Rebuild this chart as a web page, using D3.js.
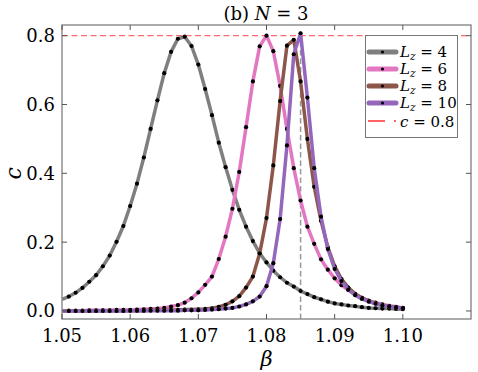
<!DOCTYPE html>
<html>
<head>
<meta charset="utf-8">
<script src="https://cdn.jsdelivr.net/npm/d3@7"></script>
<style>
  body { margin: 0; background: #fff; }
  svg text { font-family: "DejaVu Serif", "Liberation Serif", serif; }
</style>
</head>
<body>
<svg id="chart" width="478" height="372"></svg>
<script>
// beta grid (0.001 steps)
const betas = [1.050,1.051,1.052,1.053,1.054,1.055,1.056,1.057,1.058,1.059,
  1.060,1.061,1.062,1.063,1.064,1.065,1.066,1.067,1.068,1.069,
  1.070,1.071,1.072,1.073,1.074,1.075,1.076,1.077,1.078,1.079,
  1.080,1.081,1.082,1.083,1.084,1.085,1.086,1.087,1.088,1.089,
  1.090,1.091,1.092,1.093,1.094,1.095,1.096,1.097,1.098,1.099,1.100];

const cLz4 = [0.034,0.042,0.053,0.067,0.085,0.104,0.130,0.161,0.201,0.247,
  0.305,0.370,0.446,0.529,0.612,0.691,0.753,0.791,0.797,0.770,
  0.716,0.645,0.569,0.489,0.418,0.352,0.294,0.245,0.203,0.168,
  0.141,0.117,0.098,0.082,0.071,0.058,0.049,0.040,0.034,0.027,
  0.022,0.019,0.016,0.014,0.011,0.009,0.008,0.007,0.007,0.006,0.005];

const cLz6 = [0.001,0.001,0.001,0.001,0.002,0.002,0.002,0.002,0.003,0.003,
  0.003,0.004,0.005,0.006,0.007,0.009,0.013,0.017,0.024,0.037,
  0.054,0.076,0.100,0.151,0.216,0.297,0.404,0.534,0.667,0.769,
  0.800,0.755,0.654,0.529,0.415,0.321,0.245,0.195,0.150,0.120,
  0.095,0.075,0.061,0.048,0.038,0.030,0.024,0.019,0.015,0.012,0.009];

const cLz8 = [0.000,0.000,0.000,0.000,0.000,0.000,0.001,0.001,0.001,0.001,
  0.001,0.001,0.001,0.002,0.002,0.002,0.003,0.003,0.004,0.004,
  0.005,0.006,0.008,0.012,0.018,0.028,0.043,0.068,0.100,0.167,
  0.270,0.423,0.610,0.771,0.788,0.667,0.500,0.361,0.262,0.185,
  0.130,0.093,0.068,0.050,0.038,0.029,0.022,0.017,0.013,0.011,0.009];

const cLz10 = [0.000,0.000,0.000,0.000,0.000,0.000,0.000,0.000,0.000,0.000,
  0.001,0.001,0.001,0.001,0.001,0.001,0.001,0.001,0.002,0.002,
  0.002,0.003,0.004,0.005,0.007,0.009,0.013,0.019,0.028,0.042,
  0.072,0.139,0.267,0.481,0.746,0.807,0.620,0.415,0.274,0.180,
  0.122,0.087,0.062,0.046,0.035,0.027,0.021,0.016,0.013,0.010,0.008];

const seriesNames = ["4", "6", "8", "10"];
const seriesColors = ["#7f7f7f", "#e377c2", "#8c564b", "#9467bd"];
const seriesValues = [cLz4, cLz6, cLz8, cLz10];

const xTicks = [1.05, 1.06, 1.07, 1.08, 1.09, 1.10];
const yTicks = [0.0, 0.2, 0.4, 0.6, 0.8];
const cRef = 0.8;
const betaMark = 1.085;

const width = 478, height = 372;
const margin = {top: 25, right: 7, bottom: 53, left: 62};

const svg = d3.select("#chart");

const x = d3.scaleLinear().domain([1.05, 1.11]).range([margin.left, width - margin.right]);
const y = d3.scaleLinear().domain([-0.0233, 0.831]).range([height - margin.bottom, margin.top]);

const plot = svg.append("g");

// reference lines
plot.append("line")
    .attr("x1", x(1.05)).attr("x2", x(1.11))
    .attr("y1", y(cRef)).attr("y2", y(cRef))
    .attr("stroke", "#ff6a6a").attr("stroke-width", 1.4)
    .attr("stroke-dasharray", "6,3.5");

plot.append("line")
    .attr("x1", x(betaMark)).attr("x2", x(betaMark))
    .attr("y1", y(-0.0233)).attr("y2", y(0.81))
    .attr("stroke", "#999").attr("stroke-width", 1.5)
    .attr("stroke-dasharray", "5.5,3");

const line = d3.line()
    .x(d => x(d[0]))
    .y(d => y(d[1]));

seriesValues.forEach((vals, i) => {
  const pts = betas.map((b, j) => [b, vals[j]]);
  plot.append("path")
      .datum(pts)
      .attr("fill", "none")
      .attr("stroke", seriesColors[i])
      .attr("stroke-width", 3.5)
      .attr("stroke-linejoin", "round")
      .attr("d", line);
  plot.append("g")
      .selectAll("circle")
      .data(pts.slice(1))
      .join("circle")
      .attr("cx", d => x(d[0]))
      .attr("cy", d => y(d[1]))
      .attr("r", 2.1)
      .attr("fill", "#000");
});

// frame + ticks
const axisColor = "#888";
const tickLen = 5;
svg.append("rect")
    .attr("x", margin.left).attr("y", margin.top)
    .attr("width", width - margin.left - margin.right)
    .attr("height", height - margin.top - margin.bottom)
    .attr("fill", "none").attr("stroke", axisColor).attr("stroke-width", 1.4);

const ticks = svg.append("g").attr("stroke", "#555").attr("stroke-width", 1);
xTicks.forEach(t => {
  ticks.append("line").attr("x1", x(t)).attr("x2", x(t))
      .attr("y1", height - margin.bottom).attr("y2", height - margin.bottom - tickLen);
  ticks.append("line").attr("x1", x(t)).attr("x2", x(t))
      .attr("y1", margin.top).attr("y2", margin.top + tickLen);
});
yTicks.forEach(t => {
  ticks.append("line").attr("x1", margin.left).attr("x2", margin.left + tickLen)
      .attr("y1", y(t)).attr("y2", y(t));
  ticks.append("line").attr("x1", width - margin.right).attr("x2", width - margin.right - tickLen)
      .attr("y1", y(t)).attr("y2", y(t));
});

const fs = 18;
svg.append("g").selectAll("text")
    .data(xTicks)
    .join("text")
    .attr("x", d => x(d))
    .attr("y", 342)
    .attr("text-anchor", "middle")
    .attr("font-size", fs)
    .text(d => d.toFixed(2));

svg.append("g").selectAll("text")
    .data(yTicks)
    .join("text")
    .attr("x", 55)
    .attr("y", d => y(d) + 6.5)
    .attr("text-anchor", "end")
    .attr("font-size", fs)
    .text(d => d.toFixed(1));

// axis labels
svg.append("text")
    .attr("x", x(1.08)).attr("y", 366)
    .attr("text-anchor", "middle")
    .attr("font-size", 21).attr("font-style", "italic")
    .text("β");

svg.append("text")
    .attr("transform", "translate(21," + y(0.4) + ") rotate(-90)")
    .attr("text-anchor", "middle")
    .attr("font-size", 22).attr("font-style", "italic")
    .text("c");

// title
const title = svg.append("text")
    .attr("x", 266).attr("y", 20)
    .attr("text-anchor", "middle")
    .attr("font-size", 18);
title.append("tspan").text("(b)  ");
title.append("tspan").attr("font-style", "italic").text("N");
title.append("tspan").text(" = 3");

// legend
const lg = svg.append("g");
lg.append("rect")
    .attr("x", 365.5).attr("y", 35.5).attr("width", 92).attr("height", 102)
    .attr("fill", "#fff").attr("stroke", "#777").attr("stroke-width", 1);

const legendY = [52, 69, 86, 103];
seriesNames.forEach((n, i) => {
  const ly = legendY[i];
  lg.append("line")
      .attr("x1", 369).attr("x2", 396).attr("y1", ly).attr("y2", ly)
      .attr("stroke", seriesColors[i]).attr("stroke-width", 5)
      .attr("stroke-linecap", "round");
  lg.append("circle").attr("cx", 382.5).attr("cy", ly).attr("r", 1.6).attr("fill", "#000");
  const t = lg.append("text").attr("x", 400).attr("y", ly + 5).attr("font-size", 15);
  t.append("tspan").attr("font-style", "italic").text("L");
  t.append("tspan").attr("font-style", "italic").attr("font-size", 10.5).attr("dy", 3).text("z");
  t.append("tspan").attr("dy", -3).text(" = " + n);
});

lg.append("line")
    .attr("x1", 368).attr("x2", 396).attr("y1", 121).attr("y2", 121)
    .attr("stroke", "#ff3030").attr("stroke-width", 1.4)
    .attr("stroke-dasharray", "17,9");
const tr = lg.append("text").attr("x", 400).attr("y", 127).attr("font-size", 15);
tr.append("tspan").attr("font-style", "italic").text("c");
tr.append("tspan").text(" = " + cRef.toFixed(1));
</script>
</body>
</html>
